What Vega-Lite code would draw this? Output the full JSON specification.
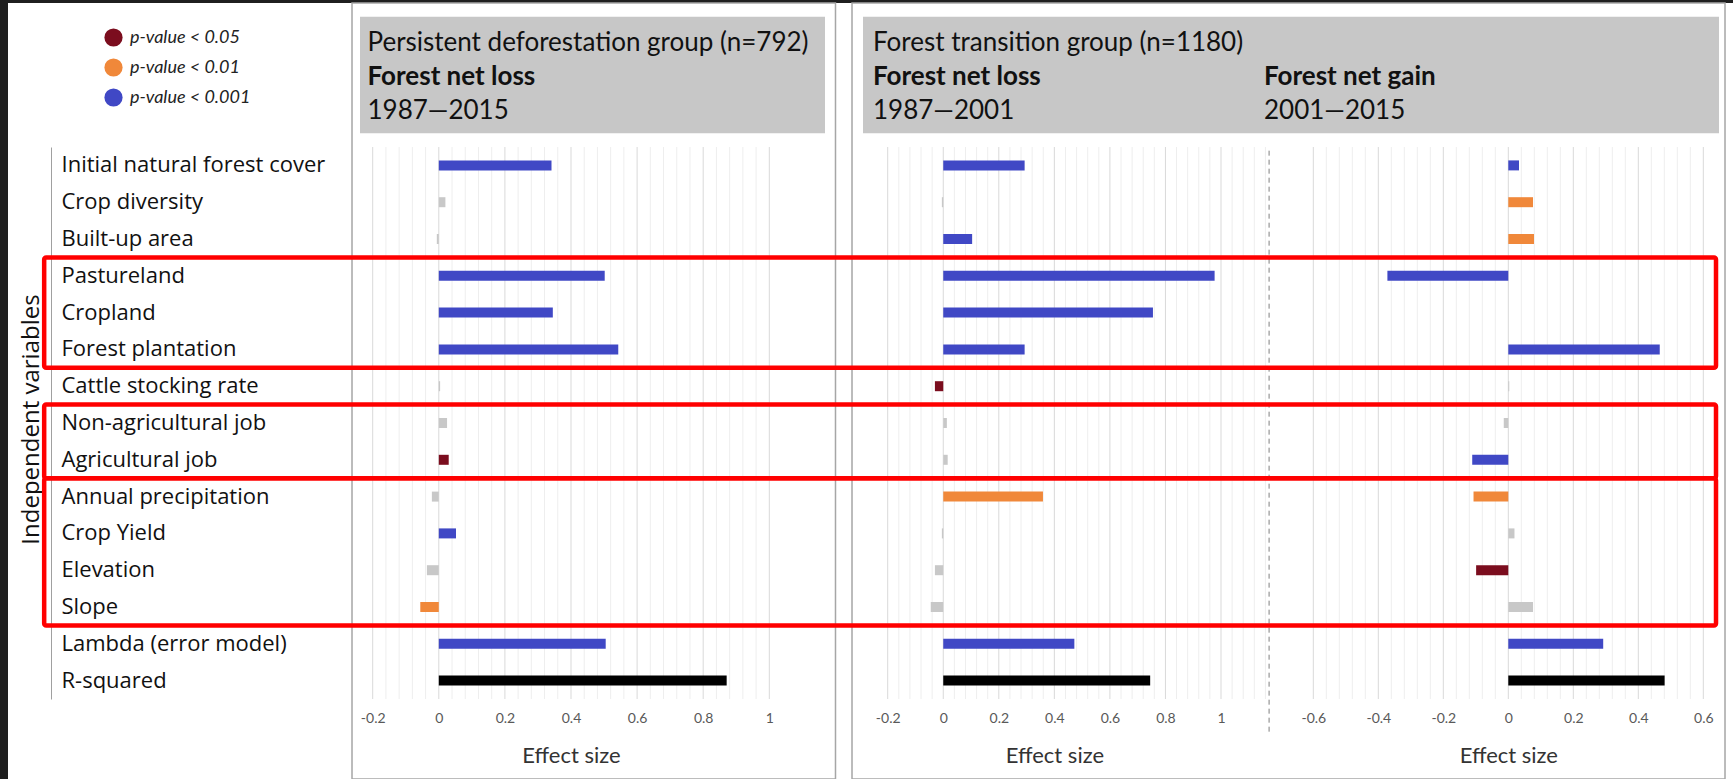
{
  "$schema": "https://vega.github.io/schema/vega-lite/v6.json",
  "width": 1725,
  "height": 776,
  "autosize": {"type": "none"},
  "padding": {"left": 8, "top": 3, "right": 0, "bottom": 0},
  "background": "#1F1F1F",
  "config": {
    "view": {"fill": "#FFFFFF", "stroke": null},
    "axis": {"grid": false, "domain": false, "ticks": false, "labelFont": "Lato", "titleFont": "Lato"},
    "font": "Lato"
  },
  "datasets": {
    "effects": [
      {"panel": "PD_loss", "variable": "Initial natural forest cover", "effect": 0.341, "sig": "p-value < 0.001"},
      {"panel": "PD_loss", "variable": "Crop diversity", "effect": 0.020, "sig": "not significant"},
      {"panel": "PD_loss", "variable": "Built-up area", "effect": -0.006, "sig": "not significant"},
      {"panel": "PD_loss", "variable": "Pastureland", "effect": 0.502, "sig": "p-value < 0.001"},
      {"panel": "PD_loss", "variable": "Cropland", "effect": 0.345, "sig": "p-value < 0.001"},
      {"panel": "PD_loss", "variable": "Forest plantation", "effect": 0.543, "sig": "p-value < 0.001"},
      {"panel": "PD_loss", "variable": "Cattle stocking rate", "effect": 0.004, "sig": "not significant"},
      {"panel": "PD_loss", "variable": "Non-agricultural job", "effect": 0.025, "sig": "not significant"},
      {"panel": "PD_loss", "variable": "Agricultural job", "effect": 0.030, "sig": "p-value < 0.05"},
      {"panel": "PD_loss", "variable": "Annual precipitation", "effect": -0.021, "sig": "not significant"},
      {"panel": "PD_loss", "variable": "Crop Yield", "effect": 0.052, "sig": "p-value < 0.001"},
      {"panel": "PD_loss", "variable": "Elevation", "effect": -0.036, "sig": "not significant"},
      {"panel": "PD_loss", "variable": "Slope", "effect": -0.056, "sig": "p-value < 0.01"},
      {"panel": "PD_loss", "variable": "Lambda (error model)", "effect": 0.505, "sig": "p-value < 0.001"},
      {"panel": "PD_loss", "variable": "R-squared", "effect": 0.871, "sig": "R-squared"},
      {"panel": "FT_loss", "variable": "Initial natural forest cover", "effect": 0.293, "sig": "p-value < 0.001"},
      {"panel": "FT_loss", "variable": "Crop diversity", "effect": -0.005, "sig": "not significant"},
      {"panel": "FT_loss", "variable": "Built-up area", "effect": 0.104, "sig": "p-value < 0.001"},
      {"panel": "FT_loss", "variable": "Pastureland", "effect": 0.977, "sig": "p-value < 0.001"},
      {"panel": "FT_loss", "variable": "Cropland", "effect": 0.755, "sig": "p-value < 0.001"},
      {"panel": "FT_loss", "variable": "Forest plantation", "effect": 0.293, "sig": "p-value < 0.001"},
      {"panel": "FT_loss", "variable": "Cattle stocking rate", "effect": -0.030, "sig": "p-value < 0.05"},
      {"panel": "FT_loss", "variable": "Non-agricultural job", "effect": 0.013, "sig": "not significant"},
      {"panel": "FT_loss", "variable": "Agricultural job", "effect": 0.016, "sig": "not significant"},
      {"panel": "FT_loss", "variable": "Annual precipitation", "effect": 0.359, "sig": "p-value < 0.01"},
      {"panel": "FT_loss", "variable": "Crop Yield", "effect": -0.005, "sig": "not significant"},
      {"panel": "FT_loss", "variable": "Elevation", "effect": -0.030, "sig": "not significant"},
      {"panel": "FT_loss", "variable": "Slope", "effect": -0.045, "sig": "not significant"},
      {"panel": "FT_loss", "variable": "Lambda (error model)", "effect": 0.472, "sig": "p-value < 0.001"},
      {"panel": "FT_loss", "variable": "R-squared", "effect": 0.745, "sig": "R-squared"},
      {"panel": "FT_gain", "variable": "Initial natural forest cover", "effect": 0.033, "sig": "p-value < 0.001"},
      {"panel": "FT_gain", "variable": "Crop diversity", "effect": 0.076, "sig": "p-value < 0.01"},
      {"panel": "FT_gain", "variable": "Built-up area", "effect": 0.079, "sig": "p-value < 0.01"},
      {"panel": "FT_gain", "variable": "Pastureland", "effect": -0.372, "sig": "p-value < 0.001"},
      {"panel": "FT_gain", "variable": "Forest plantation", "effect": 0.466, "sig": "p-value < 0.001"},
      {"panel": "FT_gain", "variable": "Cattle stocking rate", "effect": 0.003, "sig": "not significant"},
      {"panel": "FT_gain", "variable": "Non-agricultural job", "effect": -0.014, "sig": "not significant"},
      {"panel": "FT_gain", "variable": "Agricultural job", "effect": -0.111, "sig": "p-value < 0.001"},
      {"panel": "FT_gain", "variable": "Annual precipitation", "effect": -0.107, "sig": "p-value < 0.01"},
      {"panel": "FT_gain", "variable": "Crop Yield", "effect": 0.019, "sig": "not significant"},
      {"panel": "FT_gain", "variable": "Elevation", "effect": -0.099, "sig": "p-value < 0.05"},
      {"panel": "FT_gain", "variable": "Slope", "effect": 0.076, "sig": "not significant"},
      {"panel": "FT_gain", "variable": "Lambda (error model)", "effect": 0.292, "sig": "p-value < 0.001"},
      {"panel": "FT_gain", "variable": "R-squared", "effect": 0.481, "sig": "R-squared"}
    ],
    "headers": [
      {"panel": "PD_loss", "line": 1, "text": "Persistent deforestation group (n=792)"},
      {"panel": "PD_loss", "line": 2, "text": "Forest net loss"},
      {"panel": "PD_loss", "line": 3, "text": "1987—2015"},
      {"panel": "FT_loss", "line": 1, "text": "Forest transition group (n=1180)"},
      {"panel": "FT_loss", "line": 2, "text": "Forest net loss"},
      {"panel": "FT_loss", "line": 3, "text": "1987—2001"},
      {"panel": "FT_gain", "line": 2, "text": "Forest net gain"},
      {"panel": "FT_gain", "line": 3, "text": "2001—2015"}
    ],
    "groups": [
      {"from": "Pastureland", "to": "Forest plantation"},
      {"from": "Non-agricultural job", "to": "Agricultural job"},
      {"from": "Annual precipitation", "to": "Slope"}
    ],
    "grid": [
      {"panel": "PD_loss", "tick": -0.2}, {"panel": "PD_loss", "tick": -0.16}, {"panel": "PD_loss", "tick": -0.12}, {"panel": "PD_loss", "tick": -0.08}, {"panel": "PD_loss", "tick": -0.04},
      {"panel": "PD_loss", "tick": 0}, {"panel": "PD_loss", "tick": 0.04}, {"panel": "PD_loss", "tick": 0.08}, {"panel": "PD_loss", "tick": 0.12}, {"panel": "PD_loss", "tick": 0.16},
      {"panel": "PD_loss", "tick": 0.2}, {"panel": "PD_loss", "tick": 0.24}, {"panel": "PD_loss", "tick": 0.28}, {"panel": "PD_loss", "tick": 0.32}, {"panel": "PD_loss", "tick": 0.36},
      {"panel": "PD_loss", "tick": 0.4}, {"panel": "PD_loss", "tick": 0.44}, {"panel": "PD_loss", "tick": 0.48}, {"panel": "PD_loss", "tick": 0.52}, {"panel": "PD_loss", "tick": 0.56},
      {"panel": "PD_loss", "tick": 0.6}, {"panel": "PD_loss", "tick": 0.64}, {"panel": "PD_loss", "tick": 0.68}, {"panel": "PD_loss", "tick": 0.72}, {"panel": "PD_loss", "tick": 0.76},
      {"panel": "PD_loss", "tick": 0.8}, {"panel": "PD_loss", "tick": 0.84}, {"panel": "PD_loss", "tick": 0.88}, {"panel": "PD_loss", "tick": 0.92}, {"panel": "PD_loss", "tick": 0.96},
      {"panel": "PD_loss", "tick": 1},
      {"panel": "FT_loss", "tick": -0.2}, {"panel": "FT_loss", "tick": -0.16}, {"panel": "FT_loss", "tick": -0.12}, {"panel": "FT_loss", "tick": -0.08}, {"panel": "FT_loss", "tick": -0.04},
      {"panel": "FT_loss", "tick": 0}, {"panel": "FT_loss", "tick": 0.04}, {"panel": "FT_loss", "tick": 0.08}, {"panel": "FT_loss", "tick": 0.12}, {"panel": "FT_loss", "tick": 0.16},
      {"panel": "FT_loss", "tick": 0.2}, {"panel": "FT_loss", "tick": 0.24}, {"panel": "FT_loss", "tick": 0.28}, {"panel": "FT_loss", "tick": 0.32}, {"panel": "FT_loss", "tick": 0.36},
      {"panel": "FT_loss", "tick": 0.4}, {"panel": "FT_loss", "tick": 0.44}, {"panel": "FT_loss", "tick": 0.48}, {"panel": "FT_loss", "tick": 0.52}, {"panel": "FT_loss", "tick": 0.56},
      {"panel": "FT_loss", "tick": 0.6}, {"panel": "FT_loss", "tick": 0.64}, {"panel": "FT_loss", "tick": 0.68}, {"panel": "FT_loss", "tick": 0.72}, {"panel": "FT_loss", "tick": 0.76},
      {"panel": "FT_loss", "tick": 0.8}, {"panel": "FT_loss", "tick": 0.84}, {"panel": "FT_loss", "tick": 0.88}, {"panel": "FT_loss", "tick": 0.92}, {"panel": "FT_loss", "tick": 0.96},
      {"panel": "FT_loss", "tick": 1}, {"panel": "FT_loss", "tick": 1.04}, {"panel": "FT_loss", "tick": 1.08}, {"panel": "FT_loss", "tick": 1.12}, {"panel": "FT_loss", "tick": 1.16},
      {"panel": "FT_gain", "tick": -0.6}, {"panel": "FT_gain", "tick": -0.56}, {"panel": "FT_gain", "tick": -0.52}, {"panel": "FT_gain", "tick": -0.48}, {"panel": "FT_gain", "tick": -0.44},
      {"panel": "FT_gain", "tick": -0.4}, {"panel": "FT_gain", "tick": -0.36}, {"panel": "FT_gain", "tick": -0.32}, {"panel": "FT_gain", "tick": -0.28}, {"panel": "FT_gain", "tick": -0.24},
      {"panel": "FT_gain", "tick": -0.2}, {"panel": "FT_gain", "tick": -0.16}, {"panel": "FT_gain", "tick": -0.12}, {"panel": "FT_gain", "tick": -0.08}, {"panel": "FT_gain", "tick": -0.04},
      {"panel": "FT_gain", "tick": 0}, {"panel": "FT_gain", "tick": 0.04}, {"panel": "FT_gain", "tick": 0.08}, {"panel": "FT_gain", "tick": 0.12}, {"panel": "FT_gain", "tick": 0.16},
      {"panel": "FT_gain", "tick": 0.2}, {"panel": "FT_gain", "tick": 0.24}, {"panel": "FT_gain", "tick": 0.28}, {"panel": "FT_gain", "tick": 0.32}, {"panel": "FT_gain", "tick": 0.36},
      {"panel": "FT_gain", "tick": 0.4}, {"panel": "FT_gain", "tick": 0.44}, {"panel": "FT_gain", "tick": 0.48}, {"panel": "FT_gain", "tick": 0.52}, {"panel": "FT_gain", "tick": 0.56},
      {"panel": "FT_gain", "tick": 0.6}
    ]
  },
  "resolve": {"scale": {"x": "independent", "y": "independent"}, "axis": {"x": "independent", "y": "independent"}},
  "layer": [
    {
      "resolve": {"scale": {"y": "independent"}, "axis": {"y": "independent"}},
      "layer": [
        {
          "data": {"values": [{"panel": "PD_loss"}]},
          "mark": {"type": "rect", "fillOpacity": 0, "stroke": "#A6A6A6", "strokeWidth": 1.5},
          "encoding": {"x": {"datum": -0.2626, "type": "quantitative"}, "x2": {"datum": 1.2003}}
        },
        {
          "data": {"values": [{"panel": "PD_loss"}]},
          "mark": {"type": "rect", "fill": "#C7C7C7"},
          "encoding": {
            "x": {"datum": -0.2384, "type": "quantitative"}, "x2": {"datum": 1.1685},
            "y": {"datum": "header", "type": "nominal", "scale": {"range": [13.7, 130.3], "paddingInner": 0, "paddingOuter": 0}, "axis": null}
          }
        },
        {
          "data": {"name": "headers"},
          "transform": [{"filter": "datum.panel == 'PD_loss'"}],
          "mark": {"type": "text", "align": "left", "baseline": "middle", "font": "Lato", "fontSize": 26, "color": "#111111", "fontWeight": {"expr": "datum.line == 2 ? 'bold' : 'normal'"}},
          "encoding": {
            "x": {"datum": -0.2157, "type": "quantitative"},
            "y": {"field": "line", "type": "ordinal", "scale": {"type": "point", "domain": [1, 2, 3], "range": [40, 108], "padding": 0}, "axis": null},
            "text": {"field": "text"}
          }
        },
        {
          "data": {"name": "grid"},
          "transform": [{"filter": "datum.panel == 'PD_loss'"}],
          "mark": {"type": "rule", "strokeWidth": 1, "stroke": {"expr": "abs(datum.tick*5 - round(datum.tick*5)) < 0.001 ? '#D9D9D9' : '#EEEEEE'"}},
          "encoding": {
            "x": {"field": "tick", "type": "quantitative"},
            "y": {"datum": "Initial natural forest cover", "type": "nominal", "bandPosition": 0, "scale": {"domain": ["Initial natural forest cover", "Crop diversity", "Built-up area", "Pastureland", "Cropland", "Forest plantation", "Cattle stocking rate", "Non-agricultural job", "Agricultural job", "Annual precipitation", "Crop Yield", "Elevation", "Slope", "Lambda (error model)", "R-squared"], "range": [144, 696], "paddingInner": 0, "paddingOuter": 0}, "axis": null},
            "y2": {"datum": "R-squared", "bandPosition": 1}
          }
        },
        {
          "data": {"name": "effects"},
          "transform": [{"filter": "datum.panel == 'PD_loss'"}],
          "mark": {"type": "bar", "size": 10},
          "encoding": {
            "x": {
              "field": "effect", "type": "quantitative",
              "scale": {"domain": [-0.2, 1], "range": [364.7, 761.3], "nice": false, "zero": false},
              "axis": {"orient": "bottom", "offset": -82, "values": [-0.2, 0, 0.2, 0.4, 0.6, 0.8, 1], "labelExpr": "datum.value + ''", "labelFont": "Lato", "labelFontSize": 14, "labelColor": "#595959", "labelPadding": 21, "labelBaseline": "middle", "labelFlush": false, "labelOverlap": false, "title": "Effect size", "titleFont": "Lato", "titleFontSize": 22, "titleFontWeight": "normal", "titleColor": "#333333", "titleY": 58, "titleBaseline": "middle", "domain": false, "ticks": false, "grid": false}
            },
            "x2": {"datum": 0},
            "y": {
              "field": "variable", "type": "nominal",
              "scale": {"domain": ["Initial natural forest cover", "Crop diversity", "Built-up area", "Pastureland", "Cropland", "Forest plantation", "Cattle stocking rate", "Non-agricultural job", "Agricultural job", "Annual precipitation", "Crop Yield", "Elevation", "Slope", "Lambda (error model)", "R-squared"], "range": [144, 696], "paddingInner": 0, "paddingOuter": 0},
              "axis": {"orient": "left", "offset": -43, "domain": true, "domainColor": "#A0A0A0", "domainWidth": 1, "ticks": false, "grid": false, "labelAlign": "left", "labelBaseline": "middle", "labelPadding": -10, "labelFont": "Open Sans", "labelFontSize": 22, "labelColor": "#111111", "labelLimit": 400, "title": "Independent variables", "titleFont": "Open Sans", "titleFontSize": 24, "titleFontWeight": "normal", "titleColor": "#111111", "titleAngle": -90, "titleX": -20, "titleY": 416, "titleAlign": "center", "titleBaseline": "middle"}
            },
            "color": {
              "field": "sig", "type": "nominal",
              "scale": {"domain": ["p-value < 0.05", "p-value < 0.01", "p-value < 0.001", "not significant", "R-squared"], "range": ["#7B0D1E", "#F0883A", "#4048C5", "#C8C8C8", "#000000"]},
              "legend": {"orient": "none", "legendX": 96, "legendY": 25, "title": null, "values": ["p-value < 0.05", "p-value < 0.01", "p-value < 0.001"], "symbolType": "circle", "symbolSize": 330, "symbolStrokeWidth": 0, "labelFont": "Lato", "labelFontStyle": "italic", "labelFontSize": 18, "labelColor": "#222222", "rowPadding": 11, "labelOffset": 7}
            }
          }
        }
      ]
    },
    {
      "resolve": {"scale": {"y": "independent"}, "axis": {"y": "independent"}},
      "layer": [
        {
          "data": {"values": [{"panel": "FT"}]},
          "mark": {"type": "rect", "fillOpacity": 0, "stroke": "#A6A6A6", "strokeWidth": 1.5},
          "encoding": {"x": {"datum": -0.3285, "type": "quantitative"}, "x2": {"datum": 2.8146}}
        },
        {
          "data": {"values": [{"panel": "FT"}]},
          "mark": {"type": "rect", "fill": "#C7C7C7"},
          "encoding": {
            "x": {"datum": -0.2889, "type": "quantitative"}, "x2": {"datum": 2.793},
            "y": {"datum": "header", "type": "nominal", "scale": {"range": [13.7, 130.3], "paddingInner": 0, "paddingOuter": 0}, "axis": null}
          }
        },
        {
          "data": {"name": "headers"},
          "transform": [{"filter": "datum.panel == 'FT_loss'"}],
          "mark": {"type": "text", "align": "left", "baseline": "middle", "font": "Lato", "fontSize": 26, "color": "#111111", "fontWeight": {"expr": "datum.line == 2 ? 'bold' : 'normal'"}},
          "encoding": {
            "x": {"datum": -0.2529, "type": "quantitative"},
            "y": {"field": "line", "type": "ordinal", "scale": {"type": "point", "domain": [1, 2, 3], "range": [40, 108], "padding": 0}, "axis": null},
            "text": {"field": "text"}
          }
        },
        {
          "data": {"name": "grid"},
          "transform": [{"filter": "datum.panel == 'FT_loss'"}],
          "mark": {"type": "rule", "strokeWidth": 1, "stroke": {"expr": "abs(datum.tick*5 - round(datum.tick*5)) < 0.001 ? '#D9D9D9' : '#EEEEEE'"}},
          "encoding": {
            "x": {"field": "tick", "type": "quantitative"},
            "y": {"datum": "Initial natural forest cover", "type": "nominal", "bandPosition": 0, "scale": {"domain": ["Initial natural forest cover", "Crop diversity", "Built-up area", "Pastureland", "Cropland", "Forest plantation", "Cattle stocking rate", "Non-agricultural job", "Agricultural job", "Annual precipitation", "Crop Yield", "Elevation", "Slope", "Lambda (error model)", "R-squared"], "range": [144, 696], "paddingInner": 0, "paddingOuter": 0}, "axis": null},
            "y2": {"datum": "R-squared", "bandPosition": 1}
          }
        },
        {
          "data": {"values": [{"panel": "FT"}]},
          "mark": {"type": "rule", "stroke": "#7F7F7F", "strokeWidth": 1, "strokeDash": [5, 4]},
          "encoding": {
            "x": {"datum": 1.1731, "type": "quantitative"},
            "y": {"datum": "Initial natural forest cover", "type": "nominal", "bandPosition": 0.1, "scale": {"domain": ["Initial natural forest cover", "Crop diversity", "Built-up area", "Pastureland", "Cropland", "Forest plantation", "Cattle stocking rate", "Non-agricultural job", "Agricultural job", "Annual precipitation", "Crop Yield", "Elevation", "Slope", "Lambda (error model)", "R-squared"], "range": [144, 696], "paddingInner": 0, "paddingOuter": 0}, "axis": null},
            "y2": {"datum": "R-squared", "bandPosition": 1.95}
          }
        },
        {
          "data": {"name": "effects"},
          "transform": [{"filter": "datum.panel == 'FT_loss'"}],
          "mark": {"type": "bar", "size": 10},
          "encoding": {
            "x": {
              "field": "effect", "type": "quantitative",
              "scale": {"domain": [-0.2, 1], "range": [879.7, 1213], "nice": false, "zero": false},
              "axis": {"orient": "bottom", "offset": -82, "values": [-0.2, 0, 0.2, 0.4, 0.6, 0.8, 1], "labelExpr": "datum.value + ''", "labelFont": "Lato", "labelFontSize": 14, "labelColor": "#595959", "labelPadding": 21, "labelBaseline": "middle", "labelFlush": false, "labelOverlap": false, "title": "Effect size", "titleFont": "Lato", "titleFontSize": 22, "titleFontWeight": "normal", "titleColor": "#333333", "titleY": 58, "titleBaseline": "middle", "domain": false, "ticks": false, "grid": false}
            },
            "x2": {"datum": 0},
            "y": {
              "field": "variable", "type": "nominal",
              "scale": {"domain": ["Initial natural forest cover", "Crop diversity", "Built-up area", "Pastureland", "Cropland", "Forest plantation", "Cattle stocking rate", "Non-agricultural job", "Agricultural job", "Annual precipitation", "Crop Yield", "Elevation", "Slope", "Lambda (error model)", "R-squared"], "range": [144, 696], "paddingInner": 0, "paddingOuter": 0},
              "axis": null
            },
            "color": {
              "field": "sig", "type": "nominal",
              "scale": {"domain": ["p-value < 0.05", "p-value < 0.01", "p-value < 0.001", "not significant", "R-squared"], "range": ["#7B0D1E", "#F0883A", "#4048C5", "#C8C8C8", "#000000"]}
            }
          }
        }
      ]
    },
    {
      "resolve": {"scale": {"y": "independent"}, "axis": {"y": "independent"}},
      "layer": [
        {
          "data": {"name": "headers"},
          "transform": [{"filter": "datum.panel == 'FT_gain'"}],
          "mark": {"type": "text", "align": "left", "baseline": "middle", "font": "Lato", "fontSize": 26, "color": "#111111", "fontWeight": {"expr": "datum.line == 2 ? 'bold' : 'normal'"}},
          "encoding": {
            "x": {"datum": -0.7517, "type": "quantitative"},
            "y": {"field": "line", "type": "ordinal", "scale": {"type": "point", "domain": [1, 2, 3], "range": [40, 108], "padding": 0}, "axis": null},
            "text": {"field": "text"}
          }
        },
        {
          "data": {"name": "grid"},
          "transform": [{"filter": "datum.panel == 'FT_gain'"}],
          "mark": {"type": "rule", "strokeWidth": 1, "stroke": {"expr": "abs(datum.tick*5 - round(datum.tick*5)) < 0.001 ? '#D9D9D9' : '#EEEEEE'"}},
          "encoding": {
            "x": {"field": "tick", "type": "quantitative"},
            "y": {"datum": "Initial natural forest cover", "type": "nominal", "bandPosition": 0, "scale": {"domain": ["Initial natural forest cover", "Crop diversity", "Built-up area", "Pastureland", "Cropland", "Forest plantation", "Cattle stocking rate", "Non-agricultural job", "Agricultural job", "Annual precipitation", "Crop Yield", "Elevation", "Slope", "Lambda (error model)", "R-squared"], "range": [144, 696], "paddingInner": 0, "paddingOuter": 0}, "axis": null},
            "y2": {"datum": "R-squared", "bandPosition": 1}
          }
        },
        {
          "data": {"name": "effects"},
          "transform": [{"filter": "datum.panel == 'FT_gain'"}],
          "mark": {"type": "bar", "size": 10},
          "encoding": {
            "x": {
              "field": "effect", "type": "quantitative",
              "scale": {"domain": [-0.6, 0.6], "range": [1305.3, 1695.3], "nice": false, "zero": false},
              "axis": {"orient": "bottom", "offset": -82, "values": [-0.6, -0.4, -0.2, 0, 0.2, 0.4, 0.6], "labelExpr": "datum.value + ''", "labelFont": "Lato", "labelFontSize": 14, "labelColor": "#595959", "labelPadding": 21, "labelBaseline": "middle", "labelFlush": false, "labelOverlap": false, "title": "Effect size", "titleFont": "Lato", "titleFontSize": 22, "titleFontWeight": "normal", "titleColor": "#333333", "titleY": 58, "titleBaseline": "middle", "domain": false, "ticks": false, "grid": false}
            },
            "x2": {"datum": 0},
            "y": {
              "field": "variable", "type": "nominal",
              "scale": {"domain": ["Initial natural forest cover", "Crop diversity", "Built-up area", "Pastureland", "Cropland", "Forest plantation", "Cattle stocking rate", "Non-agricultural job", "Agricultural job", "Annual precipitation", "Crop Yield", "Elevation", "Slope", "Lambda (error model)", "R-squared"], "range": [144, 696], "paddingInner": 0, "paddingOuter": 0},
              "axis": null
            },
            "color": {
              "field": "sig", "type": "nominal",
              "scale": {"domain": ["p-value < 0.05", "p-value < 0.01", "p-value < 0.001", "not significant", "R-squared"], "range": ["#7B0D1E", "#F0883A", "#4048C5", "#C8C8C8", "#000000"]}
            }
          }
        },
        {
          "data": {"name": "groups"},
          "mark": {"type": "rect", "fillOpacity": 0, "stroke": "#FF0000", "strokeWidth": 4.5, "cornerRadius": 2},
          "encoding": {
            "x": {"datum": -4.505, "type": "quantitative"}, "x2": {"datum": 0.6391},
            "y": {"field": "from", "type": "nominal", "bandPosition": 0, "scale": {"domain": ["Initial natural forest cover", "Crop diversity", "Built-up area", "Pastureland", "Cropland", "Forest plantation", "Cattle stocking rate", "Non-agricultural job", "Agricultural job", "Annual precipitation", "Crop Yield", "Elevation", "Slope", "Lambda (error model)", "R-squared"], "range": [144, 696], "paddingInner": 0, "paddingOuter": 0}, "axis": null},
            "y2": {"field": "to", "bandPosition": 1}
          }
        }
      ]
    }
  ]
}
